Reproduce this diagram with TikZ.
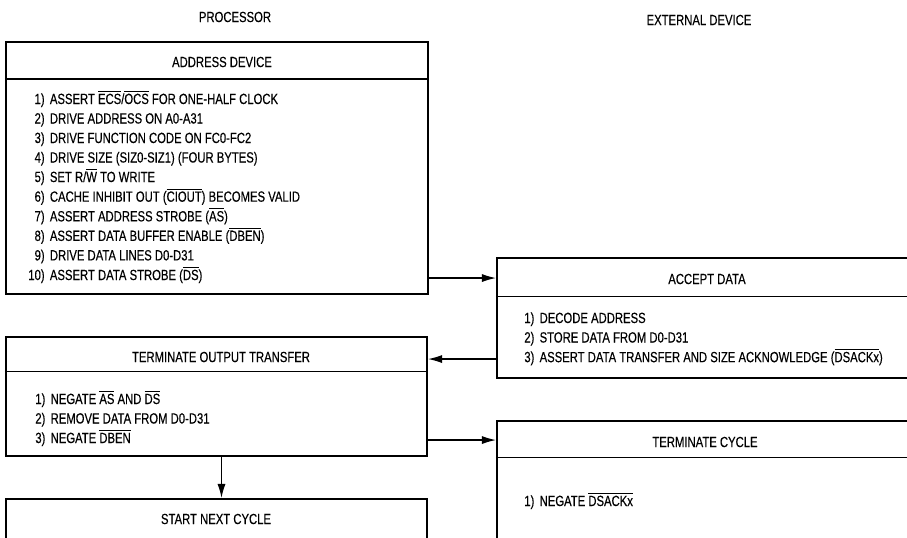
\documentclass[tikz,border=0pt]{standalone}
\usepackage{fontspec}
\setmainfont{Liberation Sans}[FakeStretch=0.765, FakeBold=0.3]
\usepackage{tikz}
\usetikzlibrary{calc,arrows.meta}

\newcommand{\ovl}[1]{$\overline{\mbox{#1}}$}

\tikzset{
  box/.style={draw, line width=1.2pt, inner sep=0pt},
  rule/.style={line width=0.6pt},
  title/.style={inner sep=0pt},
  steps/.style={inner sep=0pt, anchor=base west},
  flow/.style={-{Latex[length=8pt,width=4.6pt]}, line width=0.7pt}
}

\begin{document}
\begin{tikzpicture}[x=0.02cm, y=-0.02cm, font=\fontsize{8.4}{11.1}\selectfont]
  \useasboundingbox (0,0) rectangle (907,538);
  \clip (0,0) rectangle (907,538);
  % ------- column heads -------
  \node[title] (proc) at (235,17) {PROCESSOR};
  \node[title] (ext) at (699,20) {EXTERNAL DEVICE};
  % ------- processor side -------
  \node[box, minimum width=8.44cm, minimum height=5.04cm] (addr) at (217,168) {};
  \node[box, minimum width=8.42cm, minimum height=2.38cm] (tot) at (216.5,396.5) {};
  \node[box, minimum width=8.42cm, minimum height=0.82cm] (snc) at (216.5,519.5) {};
  % ------- external device side -------
  \node[box, minimum width=8.4cm, minimum height=2.4cm] (acc) at (707,318) {};
  \node[box, minimum width=8.4cm, minimum height=2.38cm] (tc) at (707,480.5) {};
  % header rules
  \foreach \n/\d in {addr/38,tot/36,acc/40,tc/38}
    \draw[rule] ($(\n.north west)+(0,\d)$) -- ($(\n.north east)+(0,\d)$);
  % titles
  \node[title] (addrT) at (222,62) {ADDRESS DEVICE};
  \node[title] (totT) at (221,357) {TERMINATE OUTPUT TRANSFER};
  \node[title] (sncT) at (216,519) {START NEXT CYCLE};
  \node[title] (accT) at (707,279) {ACCEPT DATA};
  \node[title] (tcT) at (705,442) {TERMINATE CYCLE};
  % step lists
  \node[steps] (addrL) at (28,104) {\begin{tabular}[t]{@{}r@{\hspace{3pt}}l@{}}
    1) & ASSERT \ovl{ECS}/\ovl{OCS} FOR ONE-HALF CLOCK\\
    2) & DRIVE ADDRESS ON A0-A31\\
    3) & DRIVE FUNCTION CODE ON FC0-FC2\\
    4) & DRIVE SIZE (SIZ0-SIZ1) (FOUR BYTES)\\
    5) & SET R/\ovl{W} TO WRITE\\
    6) & CACHE INHIBIT OUT (\ovl{CIOUT}) BECOMES VALID\\
    7) & ASSERT ADDRESS STROBE (\ovl{AS})\\
    8) & ASSERT DATA BUFFER ENABLE (\ovl{DBEN})\\
    9) & DRIVE DATA LINES D0-D31\\
    10) & ASSERT DATA STROBE (\ovl{DS})
  \end{tabular}};
  \node[steps] (totL) at (35,404) {\begin{tabular}[t]{@{}r@{\hspace{3pt}}l@{}}
    1) & NEGATE \ovl{AS} AND \ovl{DS}\\
    2) & REMOVE DATA FROM D0-D31\\
    3) & NEGATE \ovl{DBEN}
  \end{tabular}};
  \node[steps] (accL) at (524,323) {\begin{tabular}[t]{@{}r@{\hspace{3pt}}l@{}}
    1) & DECODE ADDRESS\\
    2) & STORE DATA FROM D0-D31\\
    3) & ASSERT DATA TRANSFER AND SIZE ACKNOWLEDGE (\ovl{DSACKx})
  \end{tabular}};
  \node[steps] (tcL) at (524,506) {\begin{tabular}[t]{@{}r@{\hspace{3pt}}l@{}}
    1) & NEGATE \ovl{DSACKx}
  \end{tabular}};
  % ------- handshake -------
  \coordinate (a1) at ($(addr.south east)+(0,-17)$);
  \coordinate (a2) at ($(acc.south west)+(0,-20)$);
  \coordinate (a3) at ($(tot.south east)+(0,-17)$);
  \coordinate (a4) at ($(tot.south)+(5,0)$);
  \draw[flow] (a1) -- (a1 -| acc.west);
  \draw[flow] (a2) -- (a2 -| tot.east);
  \draw[flow] (a3) -- (a3 -| tc.west);
  \draw[flow] (a4) -- (a4 |- snc.north);
\end{tikzpicture}
\end{document}
